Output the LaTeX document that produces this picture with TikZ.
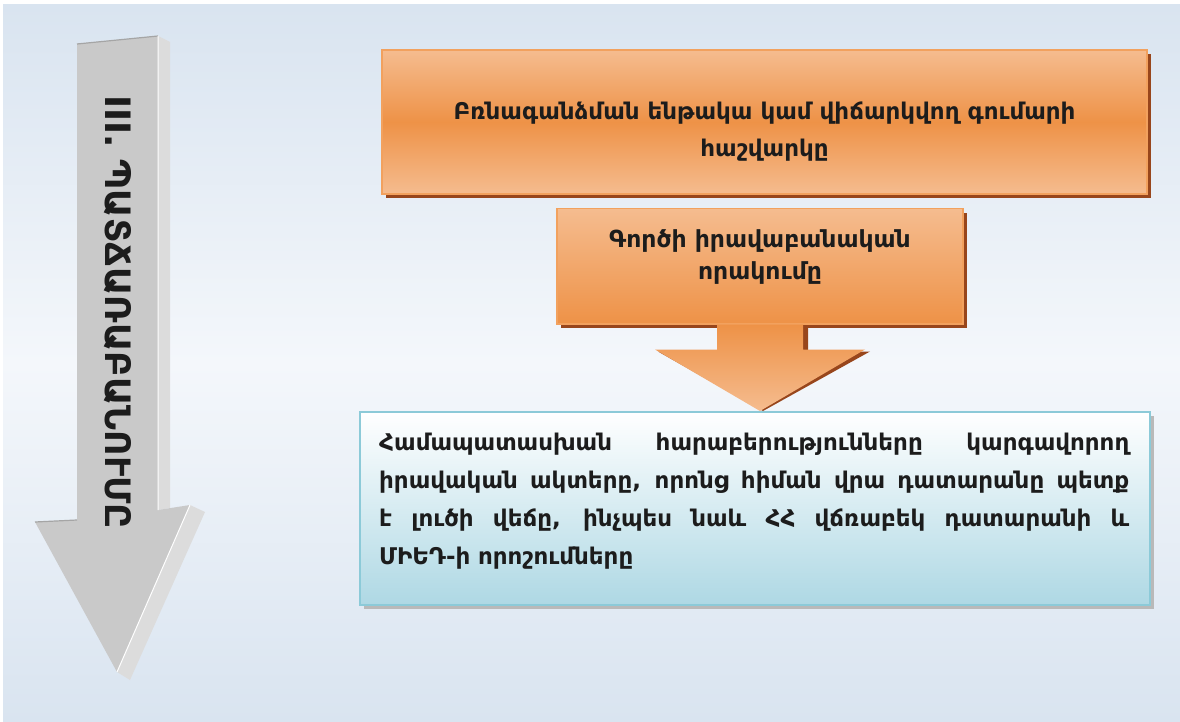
\documentclass[tikz,border=0pt]{standalone}
\usepackage{fontspec}
\setmainfont{DejaVu Sans}
\newfontfamily\armb{DejaVu Sans}
\usetikzlibrary{shadows,calc}
\newcommand\jline[1]{\leavevmode\hbox to 750pt{\spaceskip=0.3em plus 1fil\relax #1}}
\definecolor{bgtop}{HTML}{D9E4F0}
\definecolor{bgmid}{HTML}{F4F7FB}
\definecolor{ortop}{HTML}{F5BC8F}
\definecolor{ormid}{HTML}{EE9247}
\definecolor{orborder}{HTML}{F2A15E}
\definecolor{orshadow}{HTML}{98461C}
\definecolor{blborder}{HTML}{8CCAD8}
\definecolor{blbottom}{HTML}{AED8E4}
\definecolor{grfront}{HTML}{C9C9C9}
\definecolor{grside}{HTML}{DCDCDC}
\definecolor{gredge}{HTML}{A5A5A5}
\definecolor{txt}{HTML}{1C1C1C}
\tikzset{
  orbox/.style={draw=orborder, line width=1.5pt, inner sep=0pt,
    drop shadow={shadow xshift=4pt, shadow yshift=-4pt, fill=orshadow, opacity=1}},
  ortext/.style={text=txt, font=\armb\bfseries\fontsize{23}{37}\selectfont, align=center, inner sep=0pt},
  blbox/.style={draw=blborder, line width=2pt, top color=white, bottom color=blbottom, inner sep=0pt,
    drop shadow={shadow xshift=4pt, shadow yshift=-4pt, fill=gray!55, opacity=1}},
  bodytext/.style={text=txt, font=\armb\bfseries\fontsize{23}{38}\selectfont, inner sep=0pt, align=left, text width=750pt},
  vtext/.style={text=txt, font=\armb\bfseries\fontsize{35}{40}\selectfont, rotate=-90, inner sep=0pt}
}
\begin{document}
\begin{tikzpicture}[x=1pt,y=-1pt]
\useasboundingbox (0,0) rectangle (1180,722);
\fill[white] (0,0) rectangle (1180,722);
\shade[top color=bgtop, bottom color=bgtop, middle color=bgmid] (3,5) rectangle (1180,722);
% gray 3D arrow
\fill[grside] (158,36) -- (170,42) -- (170,508) -- (158,510) -- cycle;
\fill[grside] (190,505) -- (205,512) -- (130,680) -- (117,672) -- cycle;
\fill[grfront] (77,44) -- (158,36) -- (158,510) -- (190,505) -- (117,672) -- (35,522) -- (77,520) -- cycle;
\draw[gredge, line width=1.2pt] (77,44) -- (158,36);
\draw[gredge, line width=1.2pt] (35,522) -- (77,520);
\draw[white, line width=1pt] (158,36) -- (158,510) (190,505) -- (117,672);
\node[vtext] (title) at (118,312) {III. ՊԱՏՃԱՌԱԲԱՆՈՒՄԸ};
% boxes
\node[orbox, minimum width=765pt, minimum height=144pt, top color=ortop, bottom color=ortop, middle color=ormid] (b1) at (764.5,122) {};
\node[ortext] (t1) at ($(b1.center)+(0,10)$) {Բռնագանձման ենթակա կամ վիճարկվող գումարի\\հաշվարկը};
\node[orbox, minimum width=406pt, minimum height=115pt, top color=ortop, bottom color=ormid, anchor=north] (b2) at (760,208) {};
\node[ortext, font=\armb\bfseries\fontsize{23.5}{32}\selectfont] (t2) at (760,257) {Գործի իրավաբանական\\որակումը};
\node[blbox, minimum width=790pt, minimum height=193pt] (b3) at (755,508.5) {};
\node[bodytext, anchor=north west] (t3) at ($(b3.north west)+(20,22)$)
  {\jline{Համապատասխան հարաբերությունները կարգավորող}\\
   \jline{իրավական ակտերը, որոնց հիման վրա դատարանը պետք}\\
   \jline{է լուծի վեճը, ինչպես նաև ՀՀ վճռաբեկ դատարանի և}\\
   ՄԻԵԴ-ի որոշումները};
% orange connector arrow
\coordinate (tip) at (b2.south |- b3.north);
\fill[orshadow] ($(b2.south)+(-40,1)$) -- ($(b2.south)+(-40,27)$) -- ($(b2.south)+(-102,27)$) -- ($(tip)+(3,0)$) -- ($(b2.south)+(110,27)$) -- ($(b2.south)+(48,27)$) -- ($(b2.south)+(48,1)$) -- cycle;
\shade[top color=ormid, bottom color=ortop] ($(b2.south)+(-43,0)$) -- ($(b2.south)+(-43,25)$) -- ($(b2.south)+(-105,25)$) -- (tip) -- ($(b2.south)+(105,25)$) -- ($(b2.south)+(43,25)$) -- ($(b2.south)+(43,0)$) -- cycle;
\end{tikzpicture}
\end{document}
